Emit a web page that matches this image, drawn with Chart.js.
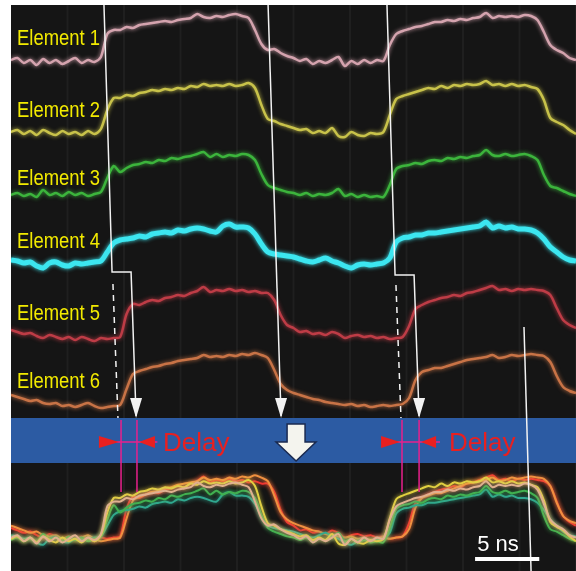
<!DOCTYPE html>
<html>
<head>
<meta charset="utf-8">
<script src="https://cdn.jsdelivr.net/npm/chart.js@4.4.1/dist/chart.umd.min.js"></script>
<style>
  html, body { margin: 0; padding: 0; background: #fff; }
  canvas { display: block; }
</style>
</head>
<body>
<canvas id="scope" width="576" height="571"></canvas>
<script>
// sample times (ns)
const timeNs = [0,0.5,1,1.5,2,2.5,3,3.5,4,4.5,5,5.5,6,6.5,7,7.5,8,8.5,9,9.5,10,10.5,11,11.5,12,12.5,13,13.5,14,14.5,
  15,15.5,16,16.5,17,17.5,18,18.5,19,19.5,20,20.5,21,21.5,22,22.5,23,23.5,24,24.5,25,25.5,26,26.5,27,27.5,28,28.5,29,29.5,
  30,30.5,31,31.5,32,32.5,33,33.5,34,34.5,35,35.5,36,36.5,37,37.5,38,38.5,39,39.5,40,40.5,41,41.5,42,42.5,43,43.5,44];

const elementNames = ['Element 1', 'Element 2', 'Element 3', 'Element 4', 'Element 5', 'Element 6'];

// signal amplitude above each channel's baseline (mV)
const element1 = [2,4,-1,2,-3,3,-1,2,-2,1,4,-1,2,0,5,
  28,32,32,35,34,37,38,39,40,41,40,42,43,44,48,45,44,46,45,47,48,46,44,
  32,18,12,13,9,6,4,1,3,-2,1,-1,2,5,-4,1,-2,2,-1,2,1,
  17,28,31,33,35,36,38,40,40,42,41,43,42,44,45,49,44,46,45,46,45,47,46,
  42,30,17,12,9,4,2];
const element2 = [1,3,-1,2,-2,3,0,-2,2,-1,1,-2,2,-1,4,
  23,35,35,38,37,40,41,43,42,44,43,45,44,47,46,49,47,48,47,49,47,48,50,
  45,28,14,12,9,7,5,3,4,0,2,0,5,-3,-4,1,-2,-3,0,-1,1,
  18,34,37,39,41,43,45,44,47,45,48,47,49,48,49,52,48,49,47,49,47,48,46,
  44,33,15,11,8,3,-1];
const element3 = [0,2,-1,1,-2,5,0,2,-1,3,0,2,-1,1,3,
  17,29,23,27,30,31,33,32,35,34,37,36,38,39,41,43,38,41,38,40,39,41,40,
  35,21,10,7,5,3,2,0,2,-1,1,0,2,6,-1,1,-2,0,-2,-1,-2,
  10,26,29,30,32,31,34,35,34,37,36,38,37,39,40,45,40,39,41,39,40,41,39,
  35,20,9,7,4,1,-1];
const element4 = [4,3,1,2,-2,-4,1,2,-1,-2,1,0,1,2,3,
  12,21,24,25,26,28,27,30,31,32,31,34,33,35,36,35,33,32,38,40,37,37,36,
  30,20,12,10,9,8,7,5,3,2,4,6,3,1,-2,-4,-1,0,-1,0,1,
  6,22,26,27,29,29,31,31,32,33,34,35,36,37,38,42,36,38,36,37,35,35,34,
  31,25,17,12,7,4,3];
const element5 = [10,8,6,7,4,2,5,3,1,3,0,3,1,-1,2,
  1,2,3,26,36,35,38,40,39,42,43,45,44,47,49,53,48,50,49,51,49,50,48,
  49,47,47,40,25,15,12,8,9,6,7,5,8,6,2,4,5,3,4,2,3,
  1,2,3,14,31,35,38,40,42,43,45,44,47,48,50,52,54,50,51,49,51,50,51,
  50,49,45,32,20,15,12];
const element6 = [12,10,8,6,7,4,3,4,1,2,0,2,4,1,-1,
  0,1,2,18,33,36,38,40,41,43,44,46,47,48,49,52,50,51,50,52,51,53,52,
  54,52,49,37,23,17,14,12,10,8,7,5,4,3,2,3,1,2,0,1,2,
  1,2,3,9,27,35,37,39,39,41,43,45,47,48,49,50,52,49,50,52,51,52,53,
  52,51,45,31,20,16,14];

const elementAmps = [element1, element2, element3, element4, element5, element6];

// display layout (channel offsets on screen, mV)
const channelBase = [509, 438, 376, 307, 231, 164];
const labelBase = [526, 454, 386, 323, 251, 183];
const sumBase = 31;
const sumGain = 1.2;

const topColors = ['#d4a3ae', '#c8c24a', '#3cb43c', '#3ce6f0', '#be3c46', '#c87346'];
const topWidths = [2.5, 2.5, 2.5, 5, 2.5, 2.5];
const sumColors = ['#e0b090', '#e0d040', '#40b050', '#30a890', '#f03030', '#f09040'];
const sumOrder = [0, 1, 2, 3, 5, 4];

const toPoints = (amp, base, gain) => timeNs.map((t, i) => ({ x: t, y: base + amp[i] * gain }));

const datasets = [];
elementAmps.forEach((amp, i) => {
  datasets.push({
    label: elementNames[i],
    data: toPoints(amp, channelBase[i], 1),
    borderColor: topColors[i],
    borderWidth: topWidths[i],
    pointRadius: 0,
    tension: 0.3
  });
});
sumOrder.forEach(i => {
  datasets.push({
    label: elementNames[i] + ' (sum)',
    data: toPoints(elementAmps[i], sumBase, sumGain),
    borderColor: sumColors[i],
    borderWidth: 2,
    pointRadius: 0,
    tension: 0.3
  });
});

// soft phosphor glow on each trace
const glow = {
  id: 'glow',
  beforeDatasetDraw(chart, args) {
    const ctx = chart.ctx;
    ctx.save();
    ctx.shadowColor = args.meta.dataset.options.borderColor;
    ctx.shadowBlur = 4;
  },
  afterDatasetDraw(chart) {
    chart.ctx.restore();
  }
};

const overlay = {
  id: 'overlay',
  beforeDraw(chart) {
    const { ctx, chartArea: a } = chart;
    const X = v => chart.scales.x.getPixelForValue(v);
    ctx.save();
    ctx.fillStyle = '#ffffff';
    ctx.fillRect(0, 0, chart.width, chart.height);
    ctx.fillStyle = '#151515';
    ctx.fillRect(a.left, a.top, a.right - a.left, a.bottom - a.top);
    // faint graticule
    ctx.strokeStyle = 'rgba(255,255,255,0.045)';
    ctx.lineWidth = 2;
    for (let t = 4.4; t < 44; t += 4.4) {
      ctx.beginPath();
      ctx.moveTo(X(t), a.top);
      ctx.lineTo(X(t), a.bottom);
      ctx.stroke();
    }
    ctx.restore();
  },
  afterDatasetsDraw(chart) {
    const { ctx } = chart;
    const X = v => chart.scales.x.getPixelForValue(v);
    const Y = v => chart.scales.y.getPixelForValue(v);
    ctx.save();

    // blue band
    ctx.fillStyle = '#2c5ba3';
    ctx.fillRect(X(0), Y(153), X(44) - X(0), Y(108) - Y(153));

    // big down arrow
    ctx.beginPath();
    ctx.moveTo(X(21.5), Y(147));
    ctx.lineTo(X(22.9), Y(147));
    ctx.lineTo(X(22.9), Y(129));
    ctx.lineTo(X(23.75), Y(129));
    ctx.lineTo(X(22.2), Y(110));
    ctx.lineTo(X(20.64), Y(129));
    ctx.lineTo(X(21.5), Y(129));
    ctx.closePath();
    ctx.fillStyle = '#f4f4ee';
    ctx.fill();
    ctx.strokeStyle = '#1a2a50';
    ctx.lineWidth = 1.5;
    ctx.stroke();

    // delay markers
    const delays = [
      { a: 8.57, b: 9.81, l0: 6.85, l1: 8.41, r0: 11.21, r1: 9.97, h0: 8.0, h1: 11.4, text: 11.84 },
      { a: 30.45, b: 31.78, l0: 28.82, l1: 30.3, r0: 33.1, r1: 31.93, h0: 29.9, h1: 33.41, text: 34.11 }
    ];
    delays.forEach(d => {
      ctx.strokeStyle = '#e8208c';
      ctx.lineWidth = 1.5;
      [d.a, d.b].forEach(t => {
        ctx.beginPath();
        ctx.moveTo(X(t), Y(151));
        ctx.lineTo(X(t), Y(79));
        ctx.stroke();
      });
      ctx.beginPath();
      ctx.moveTo(X(d.h0), Y(129));
      ctx.lineTo(X(d.h1), Y(129));
      ctx.stroke();
      ctx.fillStyle = '#e82020';
      [[d.l0, d.l1], [d.r0, d.r1]].forEach(([b, tip]) => {
        ctx.beginPath();
        ctx.moveTo(X(b), Y(129) - 6);
        ctx.lineTo(X(b), Y(129) + 6);
        ctx.lineTo(X(tip), Y(129));
        ctx.closePath();
        ctx.fill();
      });
      ctx.font = '26px "Liberation Sans", Arial, sans-serif';
      ctx.textBaseline = 'alphabetic';
      ctx.textAlign = 'left';
      ctx.fillText('Delay', X(d.text), Y(120));
    });

    // white guide lines
    ctx.strokeStyle = '#f2f2f2';
    ctx.fillStyle = '#f2f2f2';
    ctx.lineWidth = 1.5;
    const paths = [
      [[7.24, 566], [7.87, 299], [9.35, 299], [9.74, 155]],
      [[20.02, 566], [21.03, 155]],
      [[29.28, 566], [29.91, 296], [31.39, 296], [31.78, 155]],
      [[39.95, 244], [40.5, 0]]
    ];
    paths.forEach((p, k) => {
      ctx.beginPath();
      p.forEach(([t, v], j) => j ? ctx.lineTo(X(t), Y(v)) : ctx.moveTo(X(t), Y(v)));
      ctx.stroke();
      if (k < 3) {
        const [t, v] = p[p.length - 1];
        const tx = X(t), ty = Y(v) + 2;
        ctx.beginPath();
        ctx.moveTo(tx - 6, ty - 20);
        ctx.lineTo(tx + 6, ty - 20);
        ctx.lineTo(tx, ty);
        ctx.closePath();
        ctx.fill();
      }
    });
    ctx.setLineDash([6, 5]);
    [[[7.94, 287], [8.33, 153]], [[29.98, 286], [30.37, 153]]].forEach(([s, e]) => {
      ctx.beginPath();
      ctx.moveTo(X(s[0]), Y(s[1]));
      ctx.lineTo(X(e[0]), Y(e[1]));
      ctx.stroke();
    });
    ctx.setLineDash([]);

    // channel labels
    ctx.fillStyle = '#f2ea00';
    ctx.font = '22px "Liberation Sans", Arial, sans-serif';
    elementNames.forEach((name, i) => {
      ctx.fillText(name, X(0.47), Y(labelBase[i]), 83);
    });

    // time scale bar
    ctx.strokeStyle = '#ffffff';
    ctx.lineWidth = 4;
    ctx.beginPath();
    ctx.moveTo(X(36.14), Y(12));
    ctx.lineTo(X(41.14), Y(12));
    ctx.stroke();
    ctx.fillStyle = '#ffffff';
    ctx.font = '22px "Liberation Sans", Arial, sans-serif';
    ctx.fillText('5 ns', X(36.3), Y(20));

    ctx.restore();
  }
};

new Chart(document.getElementById('scope').getContext('2d'), {
  type: 'line',
  data: { datasets },
  options: {
    responsive: false,
    animation: false,
    devicePixelRatio: 1,
    layout: { padding: { left: 11, top: 5, right: 0, bottom: 0 } },
    plugins: { legend: { display: false }, tooltip: { enabled: false } },
    scales: {
      x: { type: 'linear', min: 0, max: 44, display: false },
      y: { type: 'linear', min: 0, max: 566, display: false }
    }
  },
  plugins: [glow, overlay]
});
</script>
</body>
</html>
